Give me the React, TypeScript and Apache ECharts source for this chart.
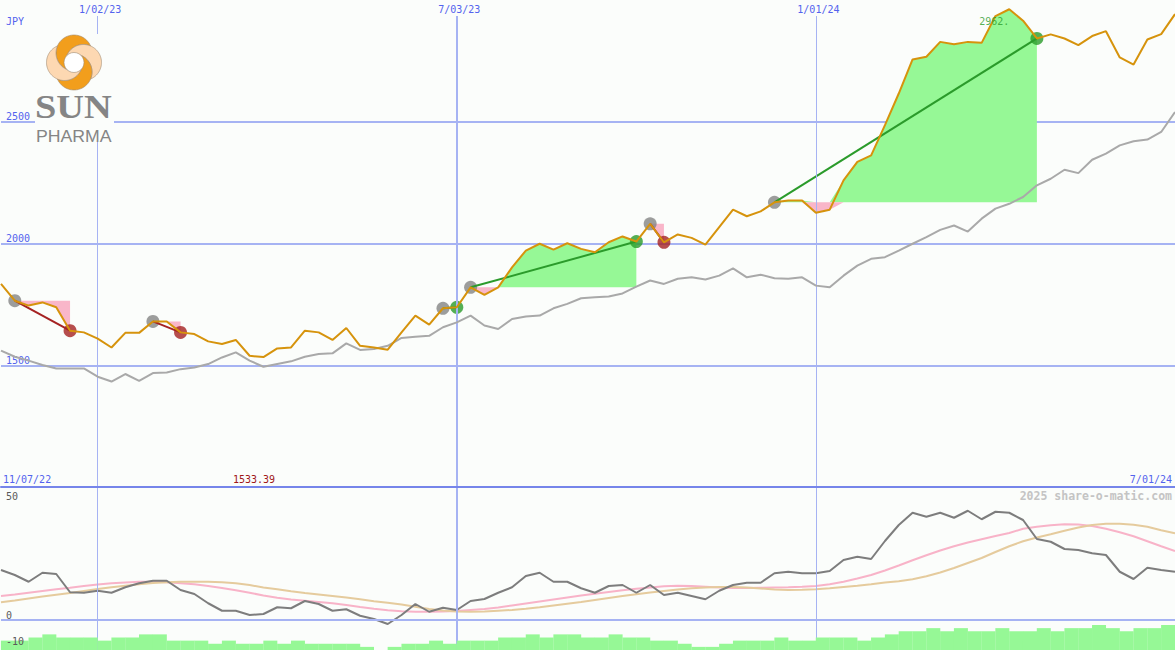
import React, { useEffect, useRef } from 'react';
import * as echarts from 'echarts';

// ---------- data (weekly, index 0 = first week on the chart) ----------
const price = [
  1834, 1765, 1745, 1758, 1738, 1642, 1635, 1609, 1573, 1633,
  1633, 1680, 1680, 1635, 1628, 1598, 1587, 1604, 1539, 1533.39,
  1569, 1573, 1642, 1635, 1604, 1653, 1580, 1573, 1564, 1635,
  1704, 1667, 1734, 1738, 1820, 1789, 1820, 1902, 1971, 1999,
  1975, 2001, 1978, 1964, 2005, 2029, 2008, 2081, 2005, 2037,
  2023, 1995, 2067, 2139, 2112, 2132, 2169, 2177, 2177, 2126,
  2139, 2259, 2335, 2362, 2486, 2616, 2756, 2767, 2828, 2818,
  2828, 2824, 2934, 2962, 2915, 2842, 2859, 2842, 2815, 2852,
  2872, 2764, 2735, 2838, 2860, 2942,
];

const benchmark = [
  1560, 1535, 1519, 1501, 1487, 1487, 1487, 1453, 1433, 1464,
  1436, 1468, 1470, 1484, 1491, 1505, 1532, 1553, 1519, 1494,
  1505, 1516, 1535, 1546, 1549, 1590, 1563, 1567, 1580, 1612,
  1617, 1621, 1656, 1676, 1704, 1663, 1649, 1690, 1700, 1704,
  1734, 1752, 1775, 1779, 1782, 1795, 1823, 1848, 1834, 1855,
  1861, 1852, 1868, 1898, 1861, 1872, 1857, 1855, 1861, 1827,
  1820, 1868, 1909, 1937, 1944, 1971, 1999, 2026, 2056, 2074,
  2049, 2102, 2143, 2163, 2191, 2239, 2266, 2303, 2289, 2344,
  2369, 2403, 2420, 2427, 2458, 2540,
];

const oscillator = [
  20, 18, 15.3, 18.9, 18.4, 11.1, 10.9, 11.7, 10.9, 13.1,
  14.7, 15.7, 15.7, 12, 10.4, 6.7, 3.7, 3.7, 2, 2.4,
  5.1, 4.7, 7.6, 6.4, 3.7, 4.3, 1.7, 0.4, -1.6, 2,
  6.4, 3.3, 4.9, 4, 7.6, 8.4, 10.9, 13.1, 17.6, 18.9,
  15.3, 15.3, 12.7, 10.9, 13.6, 14, 10.9, 14, 10, 10.9,
  9.6, 8.3, 11.7, 14, 14.9, 14.9, 18.7, 19.3, 18.7, 18.7,
  19.6, 24, 25.3, 24.4, 31.6, 38, 42.9, 41.3, 42.9, 40.9,
  43.7, 40.3, 43.3, 42.9, 40, 32.4, 31.3, 28.4, 28, 26.7,
  26, 19.3, 16.4, 20.9, 20, 19.3,
];

const oscPink = [
  9.6, 10.2, 10.9, 11.6, 12.3, 12.9, 13.6, 14.2, 14.7, 15.0,
  15.3, 15.3, 15.1, 14.7, 14.3, 13.6, 12.8, 11.9, 10.9, 9.8,
  8.9, 8.2, 7.7, 7.2, 6.7, 6.0, 5.2, 4.5, 3.9, 3.5,
  3.3, 3.3, 3.4, 3.6, 4.0, 4.4, 5.0, 5.8, 6.6, 7.4,
  8.2, 9.0, 9.8, 10.5, 11.2, 11.9, 12.5, 13.0, 13.5, 13.7,
  13.6, 13.3, 13.0, 12.8, 12.8, 12.9, 13.0, 13.1, 13.3, 13.6,
  14.3, 15.3, 16.6, 18.0, 19.8, 21.8, 23.9, 25.9, 27.8, 29.5,
  31.0, 32.3, 33.6, 34.8, 36.5, 37.3, 37.9, 38.3, 38.2, 37.6,
  36.5, 35.1, 33.5, 31.5, 29.5, 27.6,
];

const oscTan = [
  7.1, 7.8, 8.6, 9.4, 10.1, 10.8, 11.6, 12.4, 13.1, 13.7,
  14.3, 14.8, 15.1, 15.3, 15.3, 15.3, 15.1, 14.7, 14.0, 13.0,
  12.3, 11.5, 10.8, 10.2, 9.6, 9.0, 8.3, 7.5, 6.9, 6.2,
  5.3, 4.4, 3.8, 3.4, 3.3, 3.4, 3.7, 4.0, 4.5, 5.1,
  5.8, 6.5, 7.2, 8.0, 8.8, 9.6, 10.3, 11.0, 11.6, 12.2,
  12.7, 13.0, 13.2, 13.2, 13.0, 12.6, 12.2, 12.0, 12.1, 12.3,
  12.7, 13.2, 13.7, 14.3, 15.0, 15.5, 16.3, 17.5, 19.0, 20.8,
  22.8, 24.8, 27.2, 29.5, 31.5, 33.0, 34.3, 35.7, 37.0, 38.0,
  38.5, 38.5, 38.1, 37.3, 35.9, 34.7,
];

const volumeLevels = [
  3, 3, 4, 5, 4, 4, 4, 3, 4, 4,
  5, 5, 3, 3, 3, 2, 3, 2, 2, 3,
  2, 3, 2, 2, 2, 2, 1, 0, 1, 2,
  2, 3, 2, 3, 3, 3, 4, 4, 5, 4,
  5, 5, 4, 4, 5, 4, 4, 3, 3, 2,
  1, 1, 2, 3, 3, 3, 4, 3, 3, 4,
  4, 4, 3, 4, 5, 6, 6, 7, 6, 7,
  6, 6, 7, 6, 6, 7, 6, 7, 7, 8,
  7, 6, 7, 7, 8,
];

const tradeEntry = [1, 11, 32, 34, 47, 56];
const tradeExit = [5, 13, 33, 46, 48, 75];

const gridWeeks = [7, 33, 59];
const gridLabels = ['1/02/23', '7/03/23', '1/01/24'];
const gridWidths = [1, 2, 1];
const startLabel = '11/07/22';
const endLabel = '7/01/24';
const minLabel = '1533.39';
const maxLabel = '2962.';
const currencyLabel = 'JPY';
const oscTickLabels = ['50', '0', '-10'];
const watermark = '2025 share-o-matic.com';
const logoWords = ['SUN', 'PHARMA'];

// ---------- styles ----------
const BG = '#fbfdfb';
const BLUE_TEXT = '#5363ee';
const GRID_BLUE = '#a6b3f3';
const SEP_BLUE = '#7685ea';
const FONT = '"DejaVu Sans Mono", monospace';
const FILL_GREEN = '#96f896';
const FILL_PINK = '#f9b6c9';
const WIN = '#2b9b2b';
const LOSS = '#a52222';
const ENTRY_GREY = '#858585';

const pts = (arr: number[]) => arr.map((v, i) => [i, v]);

function buildOption() {
  const lastIdx = price.length - 1;
  let maxIdx = 0;
  price.forEach((p, i) => { if (p > price[maxIdx]) maxIdx = i; });

  const fillData: number[][] = [];
  tradeEntry.forEach((e, k) => {
    fillData.push([e, tradeExit[k], 1, price[e]]);
    fillData.push([e, tradeExit[k], -1, price[e]]);
  });

  const tradeLines = tradeEntry.map((e, k) => {
    const x = tradeExit[k];
    const win = price[x] > price[e];
    return {
      type: 'line', xAxisIndex: 0, yAxisIndex: 0, z: 4, silent: true,
      data: [[e, price[e]], [x, price[x]]],
      showSymbol: false, symbol: 'none',
      lineStyle: { color: win ? WIN : LOSS, width: 2 },
    };
  });

  const axisOff = { show: false };
  const GL = 1;
  const GW = 1175;

  return {
    backgroundColor: BG,
    animation: false,
    grid: [
      { left: GL, width: GW, top: 0, height: 487 },
      { left: GL, width: GW, top: 16, bottom: 0 },
      { left: GL, width: GW, top: 487, bottom: 0 },
      { left: GL, width: GW, top: 600, bottom: 0 },
    ],
    xAxis: [0, 1, 2, 3].map((g) => ({
      type: 'value', gridIndex: g, min: 0, max: lastIdx,
      show: g === 0, z: 8,
      axisLine: { show: g === 0, onZero: false, lineStyle: { color: SEP_BLUE, width: 2 } },
      axisTick: axisOff, axisLabel: axisOff, splitLine: axisOff,
    })),
    yAxis: [
      {
        type: 'value', gridIndex: 0, min: 1000, max: 3000, interval: 500,
        axisLine: axisOff, axisTick: axisOff,
        axisLabel: {
          inside: true, margin: 5, verticalAlign: 'bottom', color: BLUE_TEXT,
          fontFamily: FONT, fontSize: 10,
          formatter: (v: number) => (v === 1000 || v === 3000 ? '' : String(v)),
        },
        splitLine: { show: true, showMinLine: false, showMaxLine: false, lineStyle: { color: GRID_BLUE, width: 2 } },
      },
      { type: 'value', gridIndex: 1, min: 0, max: 1, show: false, splitLine: axisOff },
      { type: 'value', gridIndex: 2, min: -12, max: 53.2, show: false, splitLine: axisOff },
      { type: 'value', gridIndex: 3, min: 0, max: 16, show: false, splitLine: axisOff },
    ],
    series: [
      // vertical date lines with their labels
      {
        type: 'line', xAxisIndex: 1, yAxisIndex: 1, z: 1, silent: true,
        data: [[0, 0]], showSymbol: false, symbol: 'none', lineStyle: { width: 0, opacity: 0 },
        markLine: {
          silent: true, symbol: ['none', 'none'], animation: false,
          label: {
            show: true, position: 'end', formatter: '{b}', distance: 2, padding: [0, 0, 0, 5],
            color: BLUE_TEXT, fontFamily: FONT, fontSize: 10,
          },
          data: gridWeeks.map((w, k) => ({
            xAxis: w, name: gridLabels[k],
            lineStyle: { color: GRID_BLUE, width: gridWidths[k], type: 'solid' },
          })),
        },
      },
      // trade fills
      {
        type: 'custom', xAxisIndex: 0, yAxisIndex: 0, z: 2, silent: true, clip: true,
        encode: { x: 0, y: 3 },
        data: fillData,
        renderItem: (params: any, api: any) => {
          const e = api.value(0);
          const x = api.value(1);
          const side = api.value(2);
          const base = api.value(3);
          const poly: number[][] = [api.coord([e, base])];
          for (let i = e; i <= x; i++) {
            const p = price[i];
            poly.push(api.coord([i, side > 0 ? Math.max(p, base) : Math.min(p, base)]));
          }
          poly.push(api.coord([x, base]));
          return { type: 'polygon', shape: { points: poly }, style: { fill: side > 0 ? FILL_GREEN : FILL_PINK } };
        },
      },
      // entry markers
      {
        type: 'scatter', xAxisIndex: 0, yAxisIndex: 0, z: 3, silent: true,
        symbolSize: 13, itemStyle: { color: ENTRY_GREY },
        data: tradeEntry.map((e) => [e, price[e]]),
      },
      // exit markers
      {
        type: 'scatter', xAxisIndex: 0, yAxisIndex: 0, z: 3, silent: true,
        symbolSize: 13,
        data: tradeExit.map((x, k) => ({
          value: [x, price[x]],
          itemStyle: { color: price[x] > price[tradeEntry[k]] ? WIN : LOSS },
        })),
      },
      ...tradeLines,
      // benchmark
      {
        type: 'line', xAxisIndex: 0, yAxisIndex: 0, z: 5, silent: true,
        data: pts(benchmark), showSymbol: false, symbol: 'none',
        lineStyle: { color: '#a9a9a9', width: 2 },
      },
      // price
      {
        type: 'line', xAxisIndex: 0, yAxisIndex: 0, z: 6, silent: true,
        data: pts(price), showSymbol: false, symbol: 'none',
        lineStyle: { color: '#d6930c', width: 2 },
      },
      // max label
      {
        type: 'scatter', xAxisIndex: 0, yAxisIndex: 0, z: 7, silent: true,
        symbolSize: 0,
        data: [[maxIdx, price[maxIdx]]],
        label: {
          show: true, formatter: maxLabel, position: 'inside', offset: [-15, 12],
          color: WIN, fontFamily: FONT, fontSize: 10,
        },
      },
      // lower panel
      {
        type: 'line', xAxisIndex: 2, yAxisIndex: 2, z: 2, silent: true,
        data: pts(oscPink), showSymbol: false, symbol: 'none',
        lineStyle: { color: '#f8b3c8', width: 2 },
        markLine: {
          silent: true, symbol: ['none', 'none'], animation: false,
          label: { show: false },
          data: [{ yAxis: 0, lineStyle: { color: GRID_BLUE, width: 2, type: 'solid' } }],
        },
      },
      {
        type: 'line', xAxisIndex: 2, yAxisIndex: 2, z: 3, silent: true,
        data: pts(oscTan), showSymbol: false, symbol: 'none',
        lineStyle: { color: '#e5cb9d', width: 2 },
      },
      {
        type: 'line', xAxisIndex: 2, yAxisIndex: 2, z: 4, silent: true,
        data: pts(oscillator), showSymbol: false, symbol: 'none',
        lineStyle: { color: '#7d7d7d', width: 2 },
      },
      {
        type: 'bar', xAxisIndex: 3, yAxisIndex: 3, z: 5, silent: true,
        barWidth: 14,
        data: volumeLevels.map((v, i) => [i + 0.5, v]),
        itemStyle: { color: FILL_GREEN },
      },
    ],
    graphic: buildGraphics(),
  };
}

function txt(x: number, y: number, text: string, fill: string, align = 'left', font = `10px ${FONT}`) {
  return { type: 'text', x, y, z: 60, silent: true, style: { text, fill, font, align, verticalAlign: 'middle' } };
}

// crescent = circle k minus circle k+1, sampled as a polygon
function crescent(cx: number, cy: number, d: number, r: number, deg: number, step: number) {
  const a0 = (deg * Math.PI) / 180;
  const a1 = ((deg + step) * Math.PI) / 180;
  const c0 = [cx + d * Math.cos(a0), cy + d * Math.sin(a0)];
  const c1 = [cx + d * Math.cos(a1), cy + d * Math.sin(a1)];
  const dx = c1[0] - c0[0];
  const dy = c1[1] - c0[1];
  const D = Math.hypot(dx, dy);
  const alpha = Math.atan2(dy, dx);
  const beta = Math.acos(D / (2 * r));
  const out: number[][] = [];
  const N = 60;
  for (let j = 0; j <= N; j++) {
    const phi = alpha + beta + ((2 * Math.PI - 2 * beta) * j) / N;
    out.push([c0[0] + r * Math.cos(phi), c0[1] + r * Math.sin(phi)]);
  }
  for (let j = 0; j <= N; j++) {
    const psi = alpha + Math.PI + beta - (2 * beta * j) / N;
    out.push([c1[0] + r * Math.cos(psi), c1[1] + r * Math.sin(psi)]);
  }
  return out;
}

function buildGraphics() {
  const cx = 74;
  const cy = 62.5;
  const d = 9.5;
  const r = 18;
  const ORANGE = '#f29e1c';
  const PEACH = '#fdd8b2';
  const LOGO_GREY = '#858585';
  const petals = [-90, 0, 90, 180].map((deg, k) => ({
    type: 'polygon', z: 52, silent: true,
    shape: { points: crescent(cx, cy, d, r, deg, 90) },
    style: { fill: k % 2 === 0 ? ORANGE : PEACH, stroke: '#a08a70', lineWidth: 0.6 },
  }));
  return [
    { type: 'rect', z: 50, silent: true, shape: { x: 35, y: 34, width: 79, height: 108 }, style: { fill: BG } },
    ...petals,
    { type: 'circle', z: 53, silent: true, shape: { cx, cy, r: 10 }, style: { fill: '#ffffff', stroke: '#a08a70', lineWidth: 0.6 } },
    {
      type: 'text', x: 35, y: 107, scaleX: 1.13, z: 55, silent: true,
      style: { text: logoWords[0], font: 'bold 34px "Liberation Serif", serif', fill: LOGO_GREY, align: 'left', verticalAlign: 'middle' },
    },
    {
      type: 'text', x: 36, y: 136, scaleX: 1.04, z: 55, silent: true,
      style: { text: logoWords[1], font: '17px "Liberation Sans", sans-serif', fill: LOGO_GREY, align: 'left', verticalAlign: 'middle' },
    },
    txt(6, 21, currencyLabel, BLUE_TEXT),
    txt(3, 479, startLabel, BLUE_TEXT),
    txt(1172, 479, endLabel, BLUE_TEXT, 'right'),
    txt(233, 479, minLabel, '#a01818'),
    txt(1172, 496, watermark, '#c4c4c4', 'right', `bold 11.5px ${FONT}`),
    txt(6, 496, oscTickLabels[0], '#5a5a5a'),
    txt(6, 615, oscTickLabels[1], '#5a5a5a'),
    txt(6, 641, oscTickLabels[2], '#5a5a5a'),
  ];
}

export default function App() {
  const ref = useRef<HTMLDivElement>(null);
  useEffect(() => {
    if (!ref.current) return;
    const chart = echarts.init(ref.current, undefined, { renderer: 'svg' });
    chart.setOption(buildOption() as any);
    return () => chart.dispose();
  }, []);
  return (
    <div
      ref={ref}
      style={{ position: 'fixed', left: 0, top: 0, width: 1175, height: 650 }}
    />
  );
}
